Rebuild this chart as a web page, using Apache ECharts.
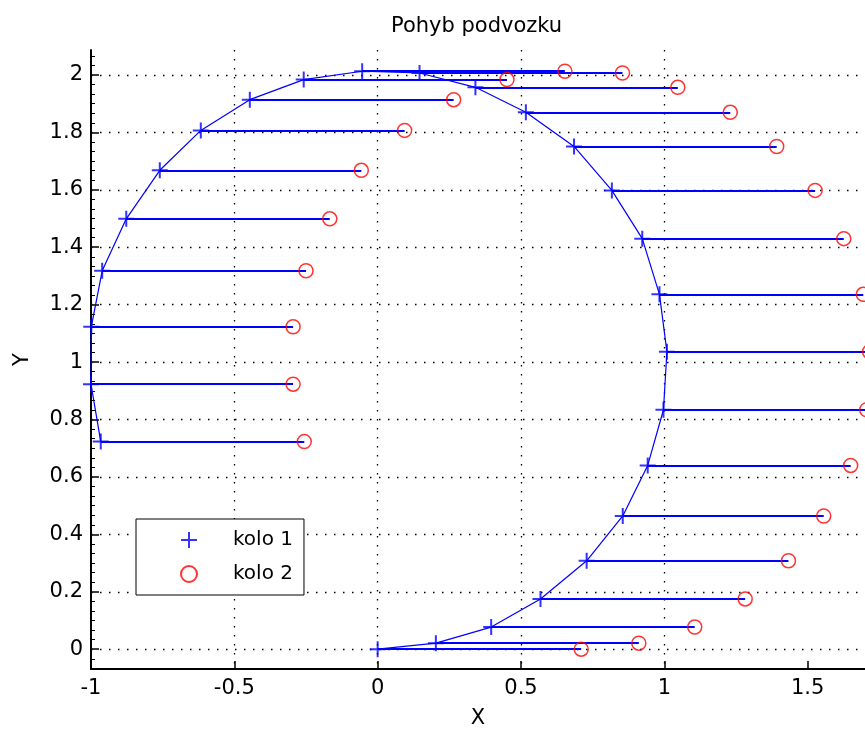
<!DOCTYPE html>
<html>
<head>
<meta charset="utf-8">
<title>Pohyb podvozku</title>
<script src="https://cdn.jsdelivr.net/npm/echarts@6/dist/echarts.min.js"></script>
<style>
    html, body { margin: 0; padding: 0; background: #fff; }
    #pohybChart { width: 865px; height: 731px; }
</style>
</head>
<body>
<div id="pohybChart"></div>
<script>
    // kolo 1 - body na draze
    const kolo1X = [0, 0.203, 0.396, 0.568, 0.729, 0.855, 0.942, 0.997, 1.009, 0.983, 0.923, 0.817, 0.685,
        0.517, 0.341, 0.146, -0.054, -0.258, -0.446, -0.617, -0.760, -0.877, -0.961, -0.999, -1.0, -0.966]
    const kolo1Y = [0, 0.021, 0.077, 0.175, 0.308, 0.464, 0.640, 0.834, 1.036, 1.236, 1.430, 1.598, 1.751,
        1.870, 1.957, 2.007, 2.013, 1.984, 1.914, 1.807, 1.668, 1.499, 1.318, 1.123, 0.923, 0.723]
    // kolo 2 - stejna vyska jako kolo 1
    const kolo2X = [0.710, 0.911, 1.106, 1.282, 1.433, 1.556, 1.650, 1.706, 1.716, 1.694, 1.626, 1.526, 1.392,
        1.230, 1.047, 0.854, 0.653, 0.451, 0.265, 0.094, -0.057, -0.167, -0.250, -0.295, -0.295, -0.256]
    const kolo2Y = [0, 0.021, 0.077, 0.175, 0.308, 0.464, 0.640, 0.834, 1.036, 1.236, 1.430, 1.598, 1.751,
        1.870, 1.957, 2.007, 2.013, 1.984, 1.914, 1.807, 1.668, 1.499, 1.318, 1.123, 0.923, 0.723]

    const xTicks = [-1, -0.5, 0, 0.5, 1, 1.5]
    const yTicks = [0, 0.2, 0.4, 0.6, 0.8, 1, 1.2, 1.4, 1.6, 1.8, 2]

    const font = 'DejaVu Sans'
    const plusPath = 'path://M0,7L14,7M7,0L7,14'
    const dotted = {color: '#000', width: 1.3, type: [1.5, 7.5]}

    const pts1 = kolo1X.map((x, i) => [x, kolo1Y[i]])
    const pts2 = kolo2X.map((x, i) => [x, kolo2Y[i]])
    // spojnice kolo 1 -> kolo 2
    const spojnice = kolo1X.map((x, i) => ({coords: [[x, kolo1Y[i]], [kolo2X[i], kolo2Y[i]]]}))

    const option = {
        animation: false,
        backgroundColor: '#fff',
        title: {
            text: 'Pohyb podvozku',
            left: 391,
            top: 16,
            padding: 0,
            textStyle: {fontFamily: font, fontSize: 21, fontWeight: 'normal', color: '#000'}
        },
        legend: {
            data: ['kolo 1', 'kolo 2'],
            orient: 'vertical',
            left: 136,
            top: 519,
            itemWidth: 16,
            itemHeight: 16,
            itemGap: 14,
            padding: [11, 11, 11, 44],
            borderColor: '#000',
            borderWidth: 1,
            backgroundColor: '#fff',
            textStyle: {fontFamily: font, fontSize: 20, color: '#000', padding: [0, 0, 0, 31]}
        },
        grid: {left: 91, right: 0, top: 50, bottom: 62, outerBoundsMode: 'none'},
        xAxis: {
            type: 'value',
            min: -1,
            max: 1.7,
            interval: 0.5,
            name: 'X',
            nameLocation: 'middle',
            nameGap: 39,
            nameTextStyle: {fontFamily: font, fontSize: 21, color: '#000'},
            axisLine: {onZero: false, lineStyle: {color: '#000', width: 2}},
            axisTick: {inside: true, length: 8, customValues: xTicks, lineStyle: {color: '#000', width: 1.5}},
            axisLabel: {customValues: xTicks, margin: 9, fontFamily: font, fontSize: 21, color: '#000'},
            splitLine: {show: true, showMinLine: false, showMaxLine: false, lineStyle: dotted}
        },
        yAxis: {
            type: 'value',
            min: -0.069,
            max: 2.087,
            minInterval: 0.2,
            maxInterval: 0.2,
            name: 'Y',
            nameLocation: 'middle',
            nameGap: 58,
            nameTextStyle: {fontFamily: font, fontSize: 21, color: '#000'},
            axisLine: {onZero: false, lineStyle: {color: '#000', width: 2}},
            axisTick: {inside: true, length: 8, customValues: yTicks, lineStyle: {color: '#000', width: 1.5}},
            minorTick: {show: true, splitNumber: 6, length: 4, lineStyle: {color: '#000', width: 1}},
            axisLabel: {customValues: yTicks, margin: 8, fontFamily: font, fontSize: 21, color: '#000'},
            splitLine: {show: true, showMinLine: true, showMaxLine: true, lineStyle: dotted}
        },
        series: [
            {
                name: 'draha',
                type: 'line',
                data: pts1,
                showSymbol: false,
                clip: false,
                lineStyle: {color: '#0000ff', width: 1.2}
            },
            {
                name: 'spojnice',
                type: 'lines',
                coordinateSystem: 'cartesian2d',
                data: spojnice,
                lineStyle: {color: '#0000ff', width: 2, opacity: 1}
            },
            {
                name: 'kolo 1',
                type: 'scatter',
                data: pts1,
                symbol: plusPath,
                symbolSize: 16,
                clip: false,
                itemStyle: {color: '#0000ff', borderColor: '#0000ff', borderWidth: 2}
            },
            {
                name: 'kolo 2',
                type: 'scatter',
                data: pts2,
                symbol: 'circle',
                symbolSize: 14,
                clip: false,
                itemStyle: {color: 'rgba(0,0,0,0)', borderColor: '#ff0000', borderWidth: 1.5}
            }
        ]
    }

    const pohybChart = echarts.init(document.getElementById('pohybChart'))
    pohybChart.setOption(option)
    window.addEventListener('resize', () => pohybChart.resize())
</script>
</body>
</html>
